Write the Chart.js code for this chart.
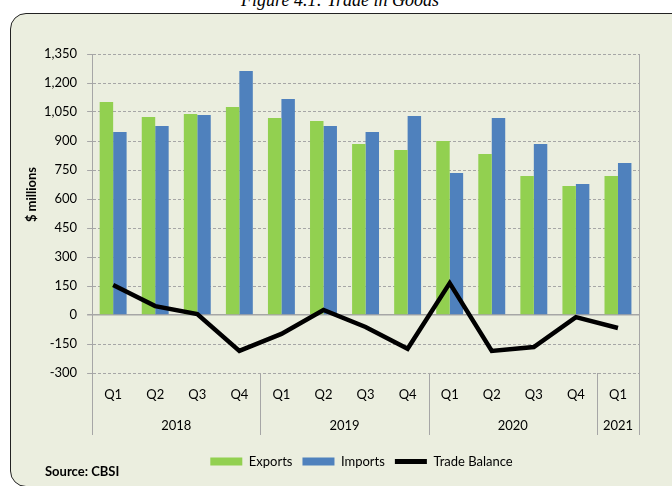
<!DOCTYPE html>
<html lang="en">
<head>
<meta charset="UTF-8">
<title>Figure 4.1: Trade in Goods</title>
<script src="https://cdn.jsdelivr.net/npm/chart.js"></script>
<style>
    body { margin: 0; width: 672px; height: 486px; overflow: hidden; position: relative; background: #fff; font-family: Lato, sans-serif; }
    .title { position: absolute; top: -10px; left: 0; width: 680px; text-align: center; font-family: 'Liberation Serif', serif; font-style: italic; font-size: 18px; }
    .frame { position: absolute; left: 10px; top: 13px; width: 720px; height: 472px; border: 1px solid #222; border-radius: 16px; background: #ebeedf; }
    .source { position: absolute; left: 45px; top: 463px; font-weight: bold; font-size: 13px; }
    #wrap { position: absolute; left: 0; top: 0; width: 672px; height: 486px; }
</style>
</head>
<body>
    <div class="title">Figure 4.1: Trade in Goods</div>
    <div class="frame"></div>
    <div id="wrap"><canvas id="myChart"></canvas></div>
    <div class="source">Source: CBSI</div>

    <script>
        // quarters and years on the x axis
        const quarters = ['Q1', 'Q2', 'Q3', 'Q4', 'Q1', 'Q2', 'Q3', 'Q4', 'Q1', 'Q2', 'Q3', 'Q4', 'Q1'];
        const years = ['2018', '2019', '2020', '2021'];
        const yearSpans = [4, 4, 4, 1];

        // $ millions
        const exportValues = [1102, 1024, 1040, 1076, 1019, 1004, 885, 854, 900, 833, 719, 667, 719];
        const importValues = [947, 978, 1035, 1262, 1117, 978, 947, 1029, 735, 1019, 885, 678, 786];
        const tradeBalance = [155, 46, 5, -186, -98, 26, -62, -175, 165, -186, -166, -11, -67];

        const axisColor = '#a6a6a6';

        // year row under the quarter labels + separators, y title
        const yearGroups = {
            id: 'yearGroups',
            afterLayout(chart) {
                // legend sits a bit right of centre in the original
                chart.legend.left += 25;
                chart.legend.right += 25;
            },
            afterDraw(chart) {
                const x = chart.scales.x, y = chart.scales.y, ctx = chart.ctx;
                const half = (x.getPixelForValue(1) - x.getPixelForValue(0)) / 2;
                const lineBottom = y.bottom + 62;
                ctx.save();
                ctx.strokeStyle = axisColor;
                ctx.lineWidth = 1;
                ctx.beginPath();
                ctx.moveTo(x.right + 0.5, y.top);
                ctx.lineTo(x.right + 0.5, y.bottom);
                let start = 0;
                const edges = [0];
                yearSpans.forEach(n => { start += n; edges.push(start); });
                edges.forEach(i => {
                    const px = Math.round(x.getPixelForValue(i) - half) + 0.5;
                    ctx.moveTo(px, y.bottom);
                    ctx.lineTo(px, lineBottom);
                });
                ctx.stroke();

                ctx.font = '13px Lato';
                ctx.fillStyle = '#000';
                ctx.textAlign = 'center';
                ctx.textBaseline = 'middle';
                start = 0;
                years.forEach((yr, k) => {
                    const a = x.getPixelForValue(start) - half;
                    const b = x.getPixelForValue(start + yearSpans[k] - 1) + half;
                    ctx.fillText(yr, (a + b) / 2, y.bottom + 53);
                    start += yearSpans[k];
                });

                ctx.translate(32, (y.top + y.bottom) / 2 - 19);
                ctx.rotate(-Math.PI / 2);
                ctx.font = 'bold 13px Lato';
                ctx.fillText('$ millions', 0, 0);
                ctx.restore();
            }
        };

        const data = {
            labels: quarters,
            datasets: [
                {
                    type: 'bar',
                    label: 'Exports',
                    data: exportValues,
                    backgroundColor: '#92d050',
                    categoryPercentage: 0.64,
                    barPercentage: 1,
                    order: 1
                },
                {
                    type: 'bar',
                    label: 'Imports',
                    data: importValues,
                    backgroundColor: '#4f81bd',
                    categoryPercentage: 0.64,
                    barPercentage: 1,
                    order: 1
                },
                {
                    type: 'line',
                    label: 'Trade Balance',
                    data: tradeBalance,
                    borderColor: '#000',
                    backgroundColor: '#000',
                    borderWidth: 4.5,
                    pointRadius: 0,
                    tension: 0,
                    order: 0
                }
            ]
        };

        const config = {
            data: data,
            options: {
                responsive: true,
                maintainAspectRatio: false,
                animation: false,
                layout: { padding: { left: 34, right: 33, top: 54, bottom: 8 } },
                scales: {
                    x: {
                        grid: { display: false },
                        border: { display: false },
                        ticks: { color: '#000', font: { family: 'Lato', size: 13 }, padding: 6, maxRotation: 0 },
                        afterFit(scale) { scale.height = 72; }
                    },
                    y: {
                        min: -300,
                        max: 1350,
                        ticks: {
                            stepSize: 150,
                            color: '#000',
                            padding: 10,
                            font: { family: 'Lato', size: 13 },
                            callback: v => v.toLocaleString('en-US')
                        },
                        grid: {
                            color: axisColor,
                            tickLength: 5,
                            lineWidth: ctx => ctx.tick && ctx.tick.value === 0 ? 1.5 : 1
                        },
                        border: {
                            color: axisColor,
                            dash: ctx => ctx.tick && ctx.tick.value === 0 ? [] : [3, 2]
                        }
                    }
                },
                plugins: {
                    tooltip: { enabled: false },
                    legend: {
                        position: 'bottom',
                        labels: {
                            color: '#000',
                            font: { family: 'Lato', size: 13 },
                            usePointStyle: true,
                            pointStyleWidth: 32,
                            boxHeight: 8,
                            padding: 10,
                            sort: (a, b) => a.datasetIndex - b.datasetIndex,
                            generateLabels(chart) {
                                const items = Chart.defaults.plugins.legend.labels.generateLabels(chart);
                                items.forEach(it => {
                                    if (chart.data.datasets[it.datasetIndex].type === 'line') {
                                        it.pointStyle = 'line';
                                        it.lineWidth = 5;
                                        it.strokeStyle = '#000';
                                    } else {
                                        it.pointStyle = 'rect';
                                        it.lineWidth = 0;
                                    }
                                });
                                return items;
                            }
                        }
                    }
                }
            },
            plugins: [yearGroups]
        };

        const ctx = document.getElementById('myChart').getContext('2d');
        const myChart = new Chart(ctx, config);
    </script>
</body>
</html>
